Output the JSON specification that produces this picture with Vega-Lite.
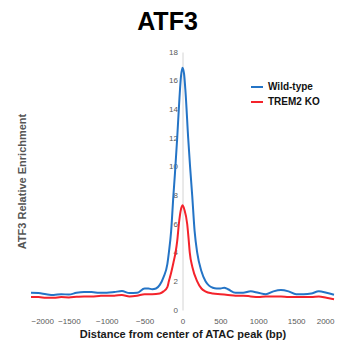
{
  "$schema": "https://vega.github.io/schema/vega-lite/v6.json",
  "autosize": "none",
  "width": 303,
  "height": 258,
  "padding": {"left": 31, "top": 52, "right": 16, "bottom": 38},
  "background": "white",
  "config": {
    "font": "Liberation Sans",
    "view": {"stroke": null}
  },
  "title": {
    "text": "ATF3",
    "fontSize": 25,
    "fontWeight": "bold",
    "color": "#000000",
    "anchor": "middle",
    "frame": "group",
    "dx": -15,
    "dy": 27,
    "baseline": "alphabetic",
    "offset": 20
  },
  "data": {
    "values": [
      {"pos": -2000, "val": 1.2, "group": "Wild-type"},
      {"pos": -1900, "val": 1.18, "group": "Wild-type"},
      {"pos": -1800, "val": 1.1, "group": "Wild-type"},
      {"pos": -1700, "val": 1.05, "group": "Wild-type"},
      {"pos": -1600, "val": 1.1, "group": "Wild-type"},
      {"pos": -1500, "val": 1.08, "group": "Wild-type"},
      {"pos": -1400, "val": 1.2, "group": "Wild-type"},
      {"pos": -1300, "val": 1.25, "group": "Wild-type"},
      {"pos": -1200, "val": 1.25, "group": "Wild-type"},
      {"pos": -1100, "val": 1.2, "group": "Wild-type"},
      {"pos": -1000, "val": 1.2, "group": "Wild-type"},
      {"pos": -900, "val": 1.25, "group": "Wild-type"},
      {"pos": -800, "val": 1.32, "group": "Wild-type"},
      {"pos": -700, "val": 1.18, "group": "Wild-type"},
      {"pos": -600, "val": 1.2, "group": "Wild-type"},
      {"pos": -500, "val": 1.5, "group": "Wild-type"},
      {"pos": -450, "val": 1.5, "group": "Wild-type"},
      {"pos": -400, "val": 1.45, "group": "Wild-type"},
      {"pos": -350, "val": 1.5, "group": "Wild-type"},
      {"pos": -300, "val": 1.75, "group": "Wild-type"},
      {"pos": -250, "val": 2.3, "group": "Wild-type"},
      {"pos": -200, "val": 3.2, "group": "Wild-type"},
      {"pos": -180, "val": 4.0, "group": "Wild-type"},
      {"pos": -150, "val": 5.5, "group": "Wild-type"},
      {"pos": -120, "val": 8.0, "group": "Wild-type"},
      {"pos": -100, "val": 9.5, "group": "Wild-type"},
      {"pos": -70, "val": 12.0, "group": "Wild-type"},
      {"pos": -40, "val": 14.8, "group": "Wild-type"},
      {"pos": -20, "val": 16.3, "group": "Wild-type"},
      {"pos": 0, "val": 16.9, "group": "Wild-type"},
      {"pos": 20, "val": 16.5, "group": "Wild-type"},
      {"pos": 40, "val": 15.2, "group": "Wild-type"},
      {"pos": 75, "val": 12.0, "group": "Wild-type"},
      {"pos": 100, "val": 10.0, "group": "Wild-type"},
      {"pos": 128, "val": 8.0, "group": "Wild-type"},
      {"pos": 160, "val": 5.5, "group": "Wild-type"},
      {"pos": 194, "val": 4.0, "group": "Wild-type"},
      {"pos": 250, "val": 2.7, "group": "Wild-type"},
      {"pos": 304, "val": 2.0, "group": "Wild-type"},
      {"pos": 350, "val": 1.7, "group": "Wild-type"},
      {"pos": 400, "val": 1.55, "group": "Wild-type"},
      {"pos": 450, "val": 1.5, "group": "Wild-type"},
      {"pos": 500, "val": 1.5, "group": "Wild-type"},
      {"pos": 550, "val": 1.55, "group": "Wild-type"},
      {"pos": 600, "val": 1.45, "group": "Wild-type"},
      {"pos": 700, "val": 1.2, "group": "Wild-type"},
      {"pos": 800, "val": 1.2, "group": "Wild-type"},
      {"pos": 900, "val": 1.3, "group": "Wild-type"},
      {"pos": 1000, "val": 1.2, "group": "Wild-type"},
      {"pos": 1100, "val": 1.1, "group": "Wild-type"},
      {"pos": 1200, "val": 1.3, "group": "Wild-type"},
      {"pos": 1300, "val": 1.4, "group": "Wild-type"},
      {"pos": 1400, "val": 1.3, "group": "Wild-type"},
      {"pos": 1500, "val": 1.1, "group": "Wild-type"},
      {"pos": 1600, "val": 1.1, "group": "Wild-type"},
      {"pos": 1700, "val": 1.15, "group": "Wild-type"},
      {"pos": 1800, "val": 1.3, "group": "Wild-type"},
      {"pos": 1900, "val": 1.2, "group": "Wild-type"},
      {"pos": 2000, "val": 1.07, "group": "Wild-type"},
      {"pos": -2000, "val": 0.9, "group": "TREM2 KO"},
      {"pos": -1900, "val": 0.9, "group": "TREM2 KO"},
      {"pos": -1800, "val": 0.85, "group": "TREM2 KO"},
      {"pos": -1700, "val": 0.85, "group": "TREM2 KO"},
      {"pos": -1600, "val": 0.9, "group": "TREM2 KO"},
      {"pos": -1500, "val": 0.88, "group": "TREM2 KO"},
      {"pos": -1400, "val": 0.92, "group": "TREM2 KO"},
      {"pos": -1300, "val": 0.95, "group": "TREM2 KO"},
      {"pos": -1200, "val": 0.95, "group": "TREM2 KO"},
      {"pos": -1100, "val": 0.98, "group": "TREM2 KO"},
      {"pos": -1000, "val": 1.0, "group": "TREM2 KO"},
      {"pos": -900, "val": 1.0, "group": "TREM2 KO"},
      {"pos": -800, "val": 1.05, "group": "TREM2 KO"},
      {"pos": -700, "val": 0.95, "group": "TREM2 KO"},
      {"pos": -600, "val": 1.0, "group": "TREM2 KO"},
      {"pos": -500, "val": 1.1, "group": "TREM2 KO"},
      {"pos": -400, "val": 1.1, "group": "TREM2 KO"},
      {"pos": -300, "val": 1.15, "group": "TREM2 KO"},
      {"pos": -250, "val": 1.3, "group": "TREM2 KO"},
      {"pos": -200, "val": 1.6, "group": "TREM2 KO"},
      {"pos": -180, "val": 2.0, "group": "TREM2 KO"},
      {"pos": -150, "val": 2.6, "group": "TREM2 KO"},
      {"pos": -120, "val": 3.3, "group": "TREM2 KO"},
      {"pos": -92, "val": 4.0, "group": "TREM2 KO"},
      {"pos": -70, "val": 4.8, "group": "TREM2 KO"},
      {"pos": -48, "val": 6.0, "group": "TREM2 KO"},
      {"pos": -25, "val": 6.9, "group": "TREM2 KO"},
      {"pos": 0, "val": 7.3, "group": "TREM2 KO"},
      {"pos": 25, "val": 7.0, "group": "TREM2 KO"},
      {"pos": 62, "val": 6.0, "group": "TREM2 KO"},
      {"pos": 80, "val": 5.0, "group": "TREM2 KO"},
      {"pos": 96, "val": 4.0, "group": "TREM2 KO"},
      {"pos": 130, "val": 3.0, "group": "TREM2 KO"},
      {"pos": 194, "val": 2.0, "group": "TREM2 KO"},
      {"pos": 250, "val": 1.5, "group": "TREM2 KO"},
      {"pos": 300, "val": 1.3, "group": "TREM2 KO"},
      {"pos": 400, "val": 1.15, "group": "TREM2 KO"},
      {"pos": 500, "val": 1.1, "group": "TREM2 KO"},
      {"pos": 600, "val": 1.05, "group": "TREM2 KO"},
      {"pos": 700, "val": 1.0, "group": "TREM2 KO"},
      {"pos": 800, "val": 1.0, "group": "TREM2 KO"},
      {"pos": 900, "val": 0.95, "group": "TREM2 KO"},
      {"pos": 1000, "val": 0.9, "group": "TREM2 KO"},
      {"pos": 1100, "val": 0.95, "group": "TREM2 KO"},
      {"pos": 1200, "val": 0.95, "group": "TREM2 KO"},
      {"pos": 1300, "val": 0.95, "group": "TREM2 KO"},
      {"pos": 1400, "val": 0.9, "group": "TREM2 KO"},
      {"pos": 1500, "val": 0.9, "group": "TREM2 KO"},
      {"pos": 1600, "val": 0.9, "group": "TREM2 KO"},
      {"pos": 1700, "val": 0.9, "group": "TREM2 KO"},
      {"pos": 1800, "val": 0.95, "group": "TREM2 KO"},
      {"pos": 1900, "val": 0.85, "group": "TREM2 KO"},
      {"pos": 2000, "val": 0.75, "group": "TREM2 KO"}
    ]
  },
  "mark": {"type": "line", "strokeWidth": 2, "interpolate": "monotone"},
  "encoding": {
    "x": {
      "field": "pos",
      "type": "quantitative",
      "scale": {"domain": [-2000, 2000], "nice": false},
      "axis": {
        "values": [-2000, -1500, -1000, -500, 0, 500, 1000, 1500, 2000],
        "format": "d",
        "title": "Distance from center of ATAC peak (bp)",
        "titleFontSize": 11,
        "titleFontWeight": "bold",
        "titleColor": "#1a1a1a",
        "titlePadding": 3,
        "domain": false,
        "ticks": false,
        "grid": false,
        "labelFontSize": 8,
        "labelColor": "#595959",
        "labelPadding": 7
      }
    },
    "y": {
      "field": "val",
      "type": "quantitative",
      "scale": {"domain": [0, 18], "nice": false},
      "axis": {
        "values": [0, 2, 4, 6, 8, 10, 12, 14, 16, 18],
        "offset": -151.5,
        "title": "ATF3 Relative Enrichment",
        "titleFontSize": 11,
        "titleFontWeight": "bold",
        "titleColor": "#555555",
        "titleX": -155.5,
        "titleY": 129,
        "titleAngle": -90,
        "titleAlign": "center",
        "titleBaseline": "bottom",
        "domain": true,
        "domainColor": "#d4d4d4",
        "domainWidth": 1,
        "ticks": false,
        "grid": false,
        "labelFontSize": 8,
        "labelColor": "#595959",
        "labelPadding": 5
      }
    },
    "color": {
      "field": "group",
      "type": "nominal",
      "sort": ["Wild-type", "TREM2 KO"],
      "scale": {"domain": ["Wild-type", "TREM2 KO"], "range": ["#2474c6", "#f4232b"]},
      "legend": {
        "title": null,
        "orient": "none",
        "legendX": 219,
        "legendY": 28,
        "padding": 0,
        "symbolType": "stroke",
        "symbolSize": 144,
        "symbolStrokeWidth": 2,
        "rowPadding": 3,
        "labelFontSize": 10,
        "labelFontWeight": "bold",
        "labelColor": "#111111",
        "labelOffset": 4
      }
    }
  }
}
